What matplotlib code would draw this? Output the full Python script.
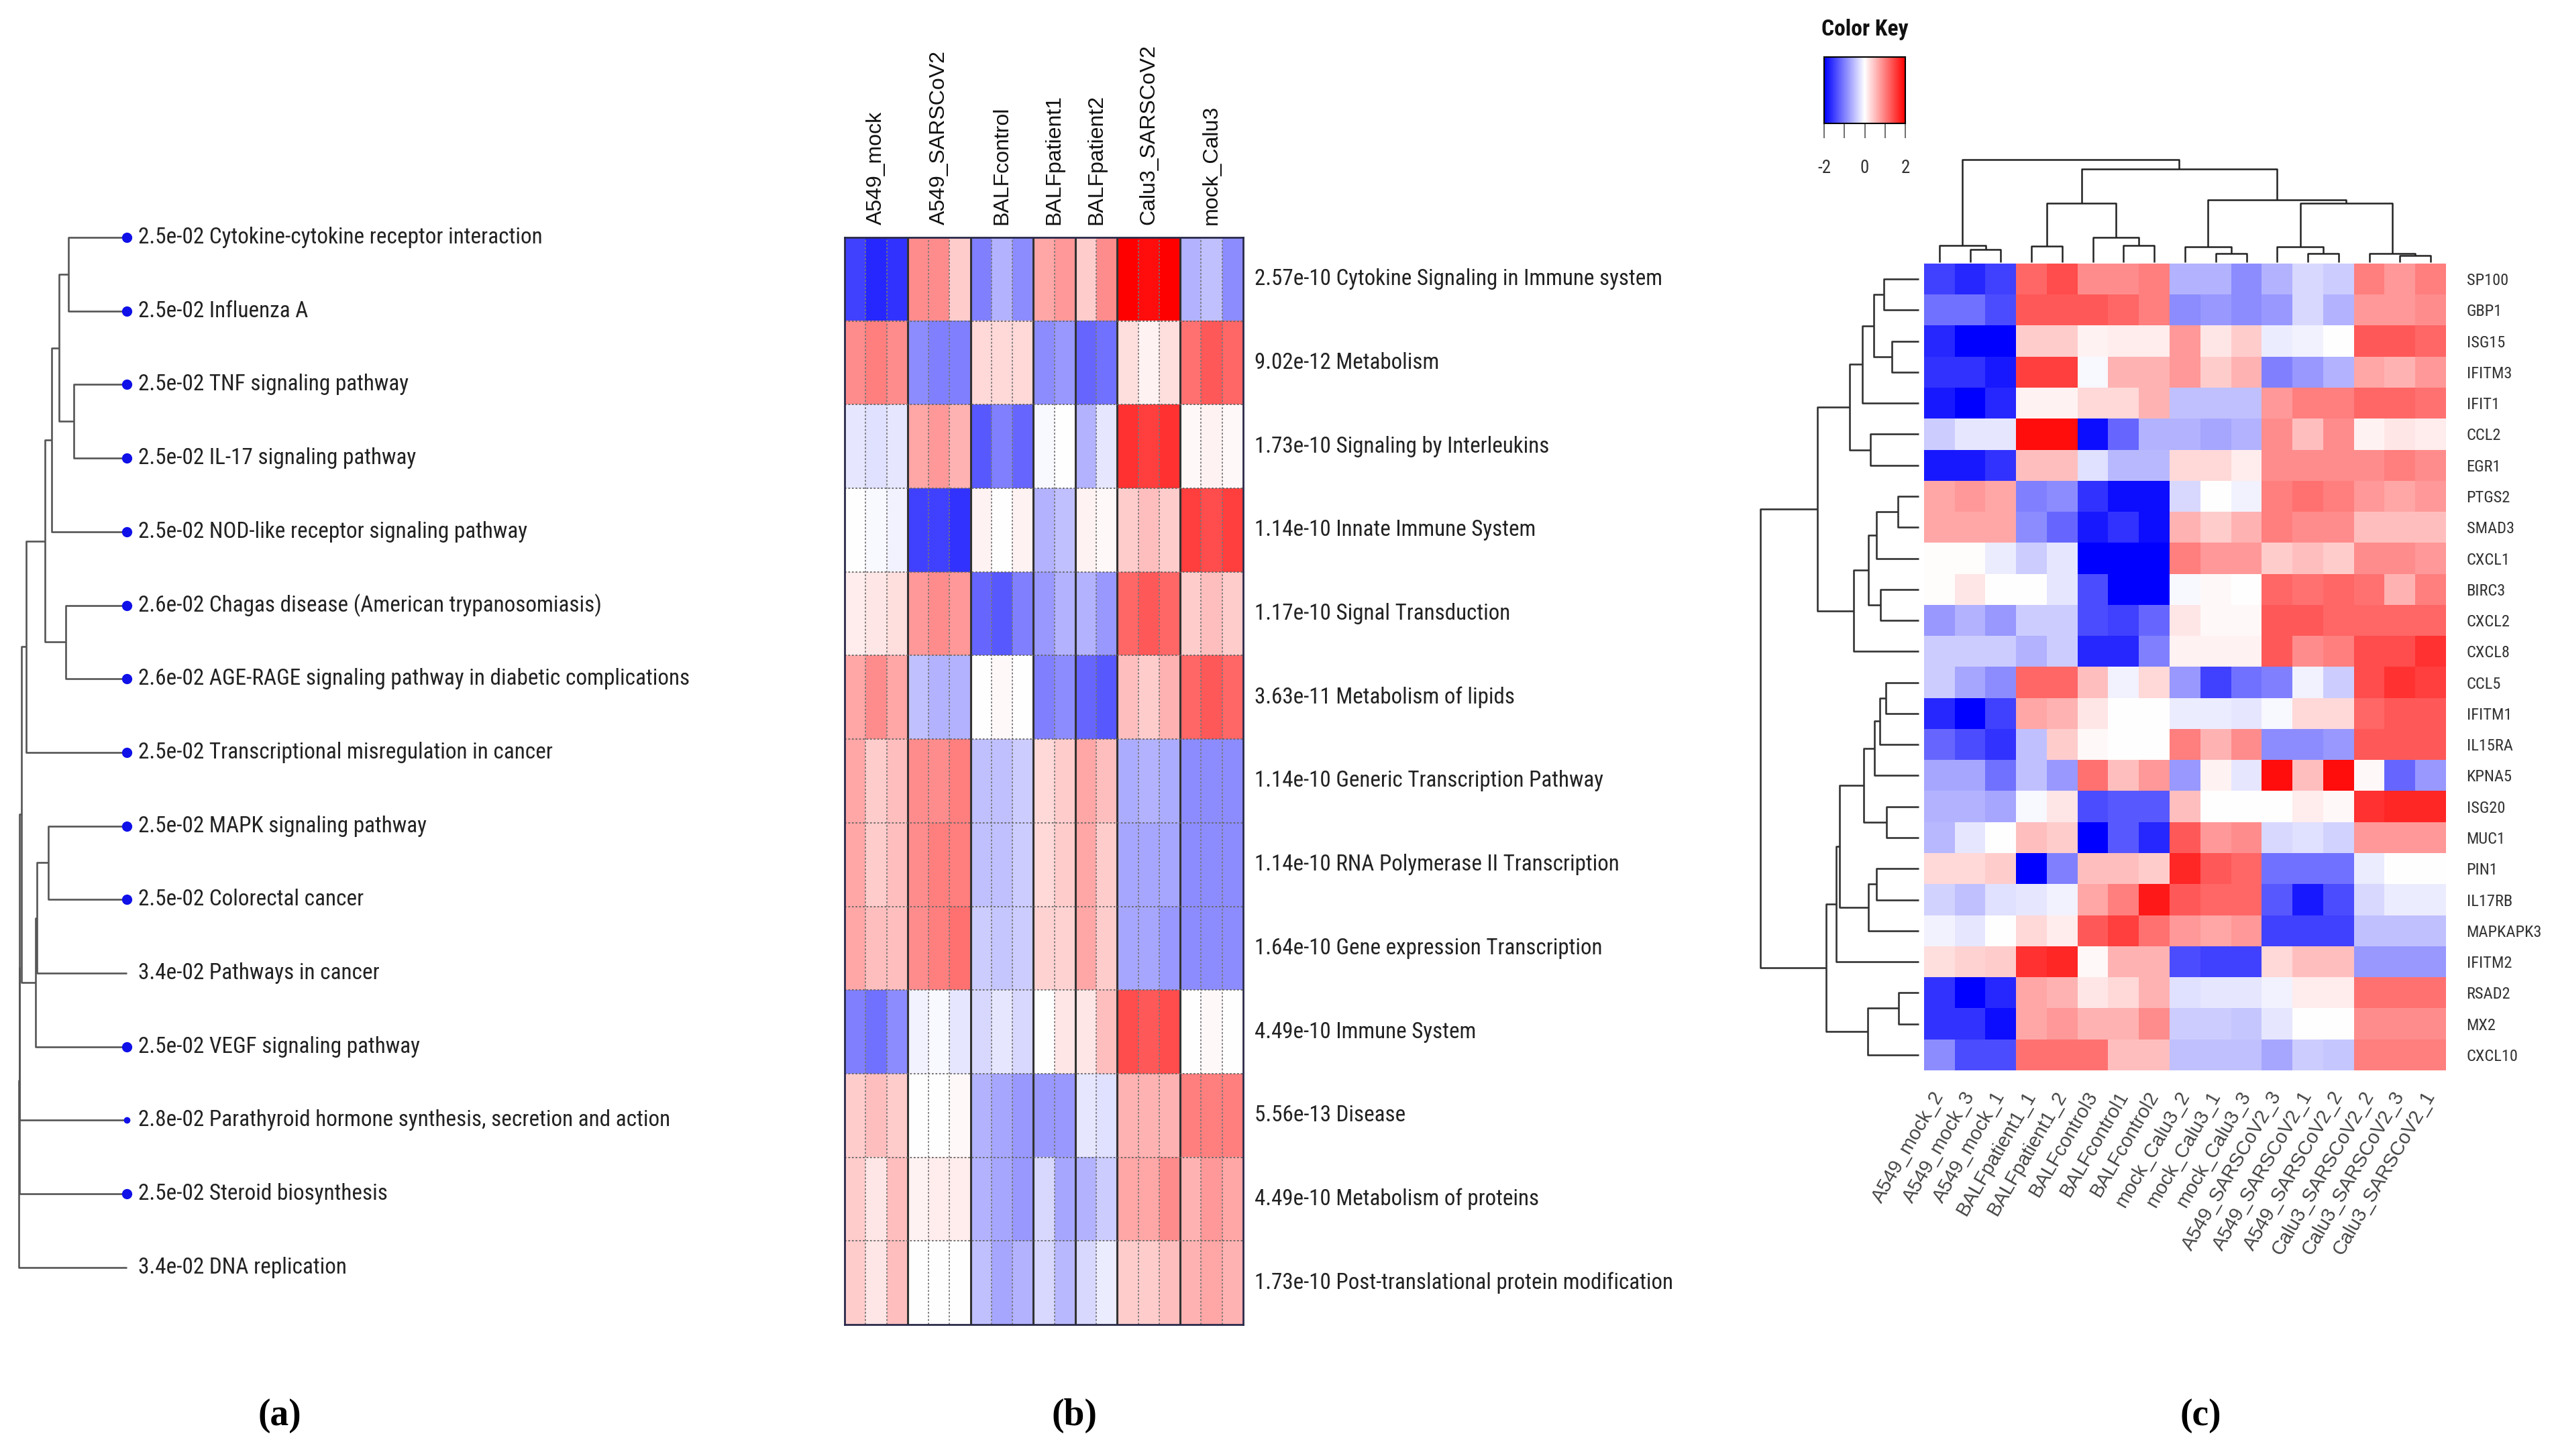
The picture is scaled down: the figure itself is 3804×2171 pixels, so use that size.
import numpy as np
import matplotlib
matplotlib.use("Agg")
import matplotlib.pyplot as plt
from matplotlib import font_manager
from matplotlib.font_manager import FontProperties
from matplotlib.textpath import TextToPath

# ---------------- data ----------------
# (a) KEGG pathway tree
kegg_pvals = ["2.5e-02", "2.5e-02", "2.5e-02", "2.5e-02", "2.5e-02", "2.6e-02", "2.6e-02",
              "2.5e-02", "2.5e-02", "2.5e-02", "3.4e-02", "2.5e-02", "2.8e-02", "2.5e-02", "3.4e-02"]
kegg_terms = ["Cytokine-cytokine receptor interaction", "Influenza A", "TNF signaling pathway",
              "IL-17 signaling pathway", "NOD-like receptor signaling pathway",
              "Chagas disease (American trypanosomiasis)",
              "AGE-RAGE signaling pathway in diabetic complications",
              "Transcriptional misregulation in cancer", "MAPK signaling pathway",
              "Colorectal cancer", "Pathways in cancer", "VEGF signaling pathway",
              "Parathyroid hormone synthesis, secretion and action", "Steroid biosynthesis",
              "DNA replication"]
kegg_dot = [10, 10, 10, 10, 10, 10, 10, 10, 10, 10, 0, 10, 6, 10, 0]
# merges: (child, child, height); children >= n refer to earlier merges
kegg_merges = [(0, 1, 87), (2, 3, 79), (15, 16, 101), (17, 4, 112), (5, 6, 91),
               (18, 19, 122), (20, 7, 150), (8, 9, 117), (22, 10, 134), (23, 11, 136),
               (21, 24, 157), (25, 12, 160), (26, 13, 160.5), (27, 14, 161)]

# (b) Reactome pathways heatmap
b_groups = ["A549_mock", "A549_SARSCoV2", "BALFcontrol", "BALFpatient1", "BALFpatient2",
            "Calu3_SARSCoV2", "mock_Calu3"]
b_group_sizes = [3, 3, 3, 2, 2, 3, 3]
b_pvals = ["2.57e-10", "9.02e-12", "1.73e-10", "1.14e-10", "1.17e-10", "3.63e-11", "1.14e-10",
           "1.14e-10", "1.64e-10", "4.49e-10", "5.56e-13", "4.49e-10", "1.73e-10"]
b_terms = ["Cytokine Signaling in Immune system", "Metabolism", "Signaling by Interleukins",
           "Innate Immune System", "Signal Transduction", "Metabolism of lipids",
           "Generic Transcription Pathway", "RNA Polymerase II Transcription",
           "Gene expression Transcription", "Immune System", "Disease",
           "Metabolism of proteins", "Post-translational protein modification"]
b_values = [
    [-1.5, -1.7, -1.6, 0.9, 0.9, 0.4, -1.0, -0.6, -0.9, 0.7, 0.8, 0.4, 0.9, 2.0, 1.9, 2.0, -0.6, -0.5, -0.9],
    [0.9, 1.0, 0.9, -0.9, -1.0, -1.0, 0.3, 0.3, 0.3, -0.9, -0.8, -1.2, -1.1, 0.25, 0.1, 0.25, 1.1, 1.3, 1.2],
    [-0.2, -0.25, -0.2, 0.7, 0.8, 0.6, -1.3, -1.0, -1.2, -0.05, 0.0, -0.6, -0.2, 1.6, 1.5, 1.6, 0.05, 0.1, 0.05],
    [0.0, -0.05, -0.1, -1.5, -1.5, -1.6, 0.1, 0.0, 0.1, -0.6, -0.5, 0.1, 0.05, 0.4, 0.5, 0.4, 1.5, 1.4, 1.5],
    [0.15, 0.2, 0.25, 0.8, 0.9, 0.8, -1.2, -1.3, -1.0, -0.8, -0.6, -0.6, -0.8, 1.2, 1.3, 1.2, 0.4, 0.5, 0.4],
    [0.7, 0.9, 0.7, -0.5, -0.6, -0.6, 0.0, 0.05, 0.0, -1.0, -0.9, -1.2, -1.3, 0.5, 0.4, 0.6, 1.2, 1.3, 1.2],
    [0.7, 0.4, 0.5, 0.9, 0.9, 1.0, -0.5, -0.5, -0.4, 0.3, 0.4, 0.7, 0.5, -0.65, -0.6, -0.65, -0.9, -0.9, -0.9],
    [0.7, 0.4, 0.5, 0.9, 1.0, 1.0, -0.5, -0.5, -0.4, 0.3, 0.4, 0.7, 0.4, -0.7, -0.7, -0.7, -0.9, -0.9, -0.9],
    [0.7, 0.5, 0.5, 0.9, 1.0, 1.1, -0.4, -0.45, -0.4, 0.35, 0.35, 0.7, 0.4, -0.7, -0.7, -0.8, -0.9, -0.9, -0.9],
    [-1.0, -1.1, -0.9, -0.1, -0.05, -0.2, -0.3, -0.2, -0.3, 0.0, 0.2, 0.2, 0.5, 1.4, 1.3, 1.4, 0.0, 0.05, 0.0],
    [0.4, 0.5, 0.4, 0.0, 0.0, 0.05, -0.6, -0.7, -0.8, -0.8, -0.8, -0.2, -0.25, 0.6, 0.6, 0.6, 1.0, 1.0, 1.0],
    [0.4, 0.2, 0.5, 0.1, 0.15, 0.15, -0.6, -0.7, -0.8, -0.3, -0.7, -0.6, -0.4, 0.7, 0.7, 0.9, 0.6, 0.8, 0.7],
    [0.4, 0.2, 0.5, 0.0, 0.0, 0.0, -0.5, -0.7, -0.6, -0.3, -0.55, -0.3, -0.15, 0.4, 0.4, 0.5, 0.6, 0.7, 0.6],
]

# (c) gene heatmap with dendrograms
c_genes = ["SP100", "GBP1", "ISG15", "IFITM3", "IFIT1", "CCL2", "EGR1", "PTGS2", "SMAD3", "CXCL1",
           "BIRC3", "CXCL2", "CXCL8", "CCL5", "IFITM1", "IL15RA", "KPNA5", "ISG20", "MUC1", "PIN1",
           "IL17RB", "MAPKAPK3", "IFITM2", "RSAD2", "MX2", "CXCL10"]
c_samples = ["A549_mock_2", "A549_mock_3", "A549_mock_1", "BALFpatient1_1", "BALFpatient1_2",
             "BALFcontrol3", "BALFcontrol1", "BALFcontrol2", "mock_Calu3_2", "mock_Calu3_1",
             "mock_Calu3_3", "A549_SARSCoV2_3", "A549_SARSCoV2_1", "A549_SARSCoV2_2",
             "Calu3_SARSCoV2_2", "Calu3_SARSCoV2_3", "Calu3_SARSCoV2_1"]
c_values = [
    [-1.5, -1.7, -1.5, 1.2, 1.4, 0.9, 0.9, 1.0, -0.6, -0.6, -0.9, -0.6, -0.3, -0.4, 1.0, 0.8, 1.0],
    [-1.1, -1.1, -1.4, 1.3, 1.3, 1.3, 1.2, 1.0, -0.9, -0.8, -0.9, -0.8, -0.3, -0.6, 0.8, 0.8, 0.9],
    [-1.7, -2.0, -2.0, 0.4, 0.4, 0.1, 0.15, 0.15, 0.8, 0.2, 0.4, -0.15, -0.1, 0.0, 1.3, 1.3, 1.2],
    [-1.6, -1.6, -1.8, 1.5, 1.5, -0.05, 0.6, 0.6, 0.8, 0.4, 0.6, -1.0, -0.8, -0.6, 0.7, 0.6, 0.8],
    [-1.8, -2.0, -1.7, 0.1, 0.1, 0.3, 0.3, 0.6, -0.5, -0.5, -0.5, 0.8, 1.0, 1.0, 1.2, 1.2, 1.1],
    [-0.4, -0.2, -0.2, 1.9, 1.9, -1.9, -1.2, -0.6, -0.6, -0.7, -0.6, 0.9, 0.5, 0.9, 0.1, 0.2, 0.15],
    [-1.8, -1.8, -1.6, 0.5, 0.5, -0.25, -0.55, -0.55, 0.3, 0.3, 0.15, 0.9, 0.9, 0.9, 0.9, 1.0, 0.9],
    [0.7, 0.8, 0.7, -1.0, -0.9, -1.6, -1.9, -1.9, -0.3, 0.0, -0.1, 1.0, 1.1, 1.0, 0.8, 0.7, 0.8],
    [0.7, 0.7, 0.7, -0.9, -1.2, -1.8, -1.6, -1.9, 0.6, 0.4, 0.6, 1.0, 0.9, 0.9, 0.5, 0.5, 0.5],
    [0.02, 0.02, -0.15, -0.4, -0.2, -2.0, -2.0, -2.0, 1.0, 0.8, 0.8, 0.4, 0.5, 0.4, 0.9, 0.9, 0.8],
    [0.02, 0.2, 0.0, 0.0, -0.2, -1.4, -2.0, -2.0, -0.05, 0.05, 0.0, 1.2, 1.1, 1.2, 1.1, 0.6, 1.0],
    [-0.8, -0.6, -0.8, -0.4, -0.4, -1.4, -1.5, -1.2, 0.2, 0.05, 0.05, 1.3, 1.3, 1.2, 1.2, 1.2, 1.2],
    [-0.4, -0.4, -0.4, -0.6, -0.4, -1.7, -1.7, -1.0, 0.1, 0.1, 0.1, 1.3, 0.9, 1.0, 1.4, 1.4, 1.6],
    [-0.4, -0.7, -0.9, 1.2, 1.2, 0.5, -0.1, 0.3, -0.8, -1.5, -1.1, -1.0, -0.1, -0.4, 1.4, 1.6, 1.5],
    [-1.7, -2.0, -1.5, 0.7, 0.6, 0.2, 0.0, 0.0, -0.15, -0.15, -0.2, -0.05, 0.3, 0.3, 1.2, 1.3, 1.3],
    [-1.2, -1.4, -1.6, -0.5, 0.4, 0.05, 0.0, 0.0, 1.0, 0.6, 0.9, -0.9, -0.9, -0.8, 1.3, 1.3, 1.3],
    [-0.7, -0.7, -1.1, -0.5, -0.8, 1.1, 0.5, 0.8, -0.8, 0.1, -0.2, 1.9, 0.5, 1.9, 0.05, -1.2, -0.8],
    [-0.6, -0.6, -0.7, -0.05, 0.2, -1.4, -1.3, -1.3, 0.5, 0.0, 0.0, 0.0, 0.15, 0.05, 1.6, 1.7, 1.7],
    [-0.55, -0.2, 0.0, 0.5, 0.4, -2.0, -1.3, -1.7, 1.3, 0.8, 0.9, -0.3, -0.25, -0.35, 0.8, 0.8, 0.8],
    [0.3, 0.3, 0.4, -2.0, -1.0, 0.5, 0.5, 0.4, 1.7, 1.3, 1.2, -1.1, -1.1, -1.1, -0.15, 0.0, 0.0],
    [-0.35, -0.5, -0.25, -0.2, -0.1, 0.7, 1.0, 1.8, 1.3, 1.2, 1.2, -1.3, -1.8, -1.4, -0.3, -0.15, -0.15],
    [-0.1, -0.2, 0.0, 0.3, 0.15, 1.3, 1.5, 1.1, 0.8, 0.7, 0.8, -1.5, -1.5, -1.5, -0.5, -0.5, -0.5],
    [0.25, 0.35, 0.4, 1.6, 1.7, 0.05, 0.6, 0.6, -1.4, -1.5, -1.5, 0.3, 0.5, 0.5, -0.8, -0.8, -0.8],
    [-1.6, -2.0, -1.7, 0.7, 0.6, 0.2, 0.3, 0.6, -0.25, -0.2, -0.2, -0.1, 0.15, 0.15, 1.1, 1.1, 1.1],
    [-1.6, -1.6, -1.9, 0.7, 0.8, 0.6, 0.6, 0.9, -0.4, -0.4, -0.45, -0.2, 0.0, 0.0, 0.9, 0.9, 0.9],
    [-0.9, -1.4, -1.4, 1.1, 1.1, 1.1, 0.5, 0.5, -0.5, -0.5, -0.5, -0.7, -0.4, -0.45, 1.0, 1.0, 1.0],
]
c_row_merges = [(0, 1, 52), (2, 3, 40), (26, 27, 68), (28, 4, 85), (5, 6, 73), (29, 30, 104),
                (7, 8, 31), (32, 9, 64), (10, 11, 57), (33, 34, 76), (35, 12, 98), (31, 36, 152),
                (13, 14, 49), (38, 15, 58), (39, 16, 67), (17, 18, 48), (40, 41, 83), (19, 20, 64),
                (43, 21, 76), (42, 44, 119), (45, 22, 124), (23, 24, 30), (47, 25, 77),
                (46, 48, 139), (37, 49, 238)]
c_col_merges = [(1, 2, 19), (0, 17, 25), (3, 4, 24), (6, 7, 25), (5, 20, 37), (19, 21, 88),
                (9, 10, 13), (8, 23, 23), (12, 13, 13), (11, 25, 23), (15, 16, 10), (14, 27, 13),
                (26, 28, 88), (24, 29, 93), (22, 30, 139), (18, 31, 153)]
key_ticks = [-2, -1, 0, 1, 2]
key_labels = ["-2", "", "0", "", "2"]

# ---------------- fonts ----------------
names = {f.name for f in font_manager.fontManager.ttflist}
SANS = "Liberation Sans" if "Liberation Sans" in names else "DejaVu Sans"
SERIF = "Liberation Serif" if "Liberation Serif" in names else "DejaVu Serif"


def _w(f):
    w = f.weight
    if isinstance(w, str):
        w = font_manager.weight_dict.get(w, 400)
    return int(w)


def narrow_font(weight):
    cands = []
    for f in font_manager.fontManager.ttflist:
        st = str(f.stretch)
        if f.style != "normal":
            continue
        if ("Narrow" in f.name or "Condensed" in f.name or
                st in ("condensed", "semi-condensed", "extra-condensed")):
            cands.append(f)
    for pref in ["Liberation Sans Narrow", "Arial Narrow", "Roboto Condensed",
                 "Open Sans Condensed", "Noto Sans", "Open Sans", "DejaVu Sans"]:
        good = [f for f in cands if f.name.startswith(pref)]
        if good:
            good.sort(key=lambda f: abs(_w(f) - weight))
            return FontProperties(fname=good[0].fname)
    return FontProperties(family=SANS, weight=weight)


ttp = TextToPath()


def fitted(base, text, target_px):
    fp = base.copy()
    fp.set_size(100)
    w, h, d = ttp.get_text_width_height_descent(text, fp, ismath=False)
    size = 100 * target_px / (w * 100 / 72.0)
    fp = base.copy()
    fp.set_size(size)
    return fp


NR = narrow_font(400)
NB = narrow_font(700)
fp_a = fitted(NR, "2.5e-02 Cytokine-cytokine receptor interaction", 604)
fp_b = fitted(NR, "1.73e-10 Post-translational protein modification", 623)
fp_c = fitted(NR, "MAPKAPK3", 112)
fp_key = fitted(NR, "-2", 20)
fp_title = fitted(NB, "Color Key", 130)

W, H = 3804, 2171
fig = plt.figure(figsize=(W / 100, H / 100), dpi=100)
fig.patch.set_facecolor("white")


def rect(x0, y0, x1, y1):
    return [x0 / W, 1 - y1 / H, (x1 - x0) / W, (y1 - y0) / H]


def dendro(merges, n):
    pos = list(range(n)) + [0.0] * len(merges)
    hgt = [0.0] * n + [0.0] * len(merges)
    segs = []
    for k, (a, b, h) in enumerate(merges):
        segs.append(([pos[a], pos[a], pos[b], pos[b]], [hgt[a], h, h, hgt[b]]))
        pos[n + k] = (pos[a] + pos[b]) / 2.0
        hgt[n + k] = h
    return segs


# ---------------- (a) ----------------
axa = fig.add_axes(rect(0, 300, 1150, 1950))
axa.set_xlim(189, -961)
nA = len(kegg_terms)
axa.set_ylim(14.548, -0.492)
for p, h in dendro(kegg_merges, nA):
    axa.plot(h, p, color="#555555", lw=1.9, solid_capstyle="butt")
for i in range(nA):
    if kegg_dot[i] > 0:
        axa.plot(0, i, marker="o", ms=kegg_dot[i], color="#1010e8", mec="#1010e8")
    axa.text(-17, i, f"{kegg_pvals[i]} {kegg_terms[i]}", fontproperties=fp_a,
             va="center", ha="left", color="#222222")
axa.axis("off")

# ---------------- (b) ----------------
bv = np.array(b_values)
axb = fig.add_axes(rect(1259, 354, 1853, 1975))
nrow_b, ncol_b = bv.shape
axb.imshow(bv, cmap="bwr", vmin=-2, vmax=2, aspect="auto", interpolation="nearest",
           extent=(-0.5, ncol_b - 0.5, nrow_b - 0.5, -0.5))
edges = np.cumsum([0] + b_group_sizes)
for i in range(len(b_group_sizes)):
    for j in range(edges[i] + 1, edges[i + 1]):
        axb.axvline(j - 0.5, color="#777777", lw=1.3, ls=(0, (1.5, 1.5)))
    if i > 0:
        axb.axvline(edges[i] - 0.5, color="#333333", lw=2.2)
for r in range(1, nrow_b):
    axb.axhline(r - 0.5, color="#666666", lw=1.3, ls=(0, (1.5, 1.5)))
centers = [(edges[i] + edges[i + 1] - 1) / 2 for i in range(len(b_group_sizes))]
axb.xaxis.tick_top()
axb.set_xticks(centers)
axb.set_xticklabels(b_groups, rotation=90, family=SANS, fontsize=23, color="#111111")
axb.tick_params(axis="x", length=0, pad=14)
axb.set_yticks([])
axb.set_ylim(nrow_b - 0.5, -0.5)
for s in axb.spines.values():
    s.set_color("#2a2a4a")
    s.set_linewidth(2)
# row labels placed in figure pixels at each row's data position
fig.canvas.draw()
for r in range(nrow_b):
    ypx = axb.transData.transform((0, r))[1]
    fig.text(1870 / W, ypx / H, f"{b_pvals[r]} {b_terms[r]}", fontproperties=fp_b,
             va="center", ha="left", color="#222222")

# ---------------- (c) ----------------
cv = np.array(c_values)
nrow_c, ncol_c = cv.shape
axc = fig.add_axes(rect(2868, 393, 3646, 1596))
axc.imshow(cv, cmap="bwr", vmin=-2, vmax=2, aspect="auto", interpolation="nearest",
           extent=(-0.5, ncol_c - 0.5, nrow_c - 0.5, -0.5))
axc.yaxis.tick_right()
axc.set_yticks(range(nrow_c))
axc.set_yticklabels(c_genes, color="#333333")
for lbl in axc.get_yticklabels():
    lbl.set_fontproperties(fp_c)
axc.tick_params(axis="y", length=0, pad=22)
axc.set_xticks(range(ncol_c))
axc.set_xticklabels(c_samples, rotation=60, ha="right", va="center", rotation_mode="anchor",
                    family=SANS, fontsize=21, color="#444444")
axc.tick_params(axis="x", length=0, pad=24)
for s in axc.spines.values():
    s.set_visible(False)

# column dendrogram
axcd = fig.add_axes(rect(2868, 220, 3646, 393))
for p, h in dendro(c_col_merges, ncol_c):
    axcd.plot(p, h, color="#222222", lw=1.8, solid_capstyle="butt")
axcd.set_xlim(-0.5, ncol_c - 0.5)
axcd.set_ylim(-2, 171)
axcd.axis("off")

# row dendrogram
axrd = fig.add_axes(rect(2600, 393, 2862, 1596))
for p, h in dendro(c_row_merges, nrow_c):
    axrd.plot(h, p, color="#333333", lw=1.9, solid_capstyle="butt")
axrd.set_ylim(nrow_c - 0.5, -0.5)
axrd.set_xlim(262, -2)
axrd.axis("off")

# colour key
axk = fig.add_axes(rect(2719, 85, 2840, 184))
grad = np.linspace(-2, 2, 256).reshape(1, -1)
axk.imshow(grad, cmap="bwr", vmin=-2, vmax=2, aspect="auto", extent=(-2, 2, 0, 1))
axk.set_yticks([])
axk.set_xticks(key_ticks)
axk.set_xticklabels(key_labels, color="#333333")
for lbl in axk.get_xticklabels():
    lbl.set_fontproperties(fp_key)
axk.tick_params(axis="x", length=16, width=1.2, color="#555555", pad=22)
for s in axk.spines.values():
    s.set_linewidth(1.5)
fig.text(2780 / W, 1 - 44 / H, "Color Key", fontproperties=fp_title,
         ha="center", va="center", color="#111111")

# panel labels
for lab, x in [("(a)", 417), ("(b)", 1601), ("(c)", 3280)]:
    fig.text(x / W, 1 - 2111 / H, lab, family=SERIF, fontweight="bold", fontsize=40,
             ha="center", va="center")

fig.savefig("out.png", dpi=100, facecolor="white")
